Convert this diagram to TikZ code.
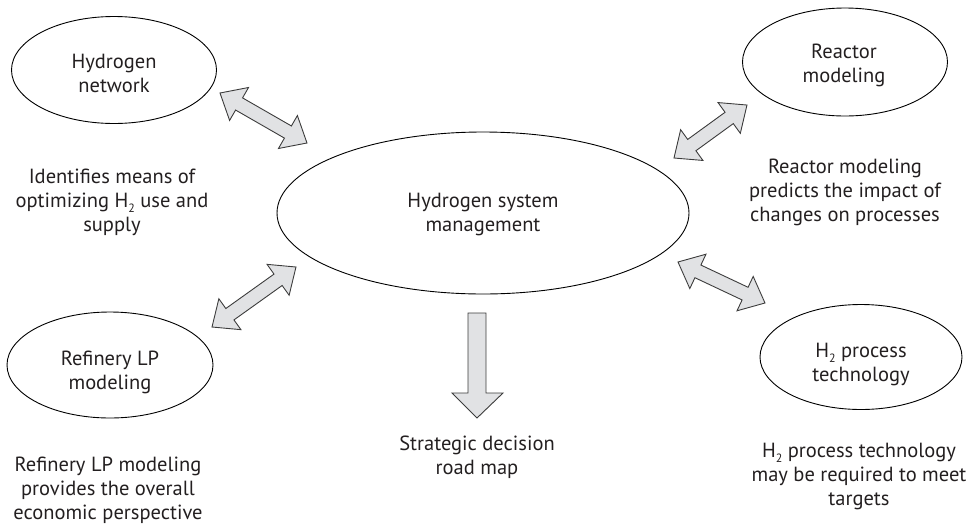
\documentclass[tikz,border=0pt]{standalone}
\usepackage{fontspec}
\setmainfont{PT Sans}
\usetikzlibrary{shapes.geometric,calc}
\definecolor{txt}{HTML}{231F20}
\definecolor{arrfill}{HTML}{E1E2E4}
\definecolor{arrline}{HTML}{3C3C3C}
\newcommand\Htwo{H\raisebox{-0.28em}{\fontsize{12}{12}\selectfont 2}}
\tikzset{
 bubble/.style={ellipse, draw=black, line width=0.9pt, inner sep=0pt},
 lbl/.style={align=center, text=txt, font=\fontsize{20.5}{24}\selectfont, inner sep=0pt},
 blockarr/.style={draw=arrline, fill=arrfill, line width=0.9pt, line join=miter},
}
\newcommand\dblblock[2]{%
 \path let \p1=($(#2)-(#1)$) in \pgfextra{%
   \pgfmathsetmacro\dbAng{atan2(\y1,\x1)}%
   \pgfmathsetmacro\dbLen{veclen(\x1,\y1)}%
   \xdef\dbAngG{\dbAng}\xdef\dbLenG{\dbLen}};
 \begin{scope}[shift={(#1)}, rotate=\dbAngG]
  \draw[blockarr] (0pt,0pt) -- (22pt,19pt) -- (22pt,7pt) -- (\dbLenG pt-22pt,7pt) -- (\dbLenG pt-22pt,19pt) -- (\dbLenG pt,0pt) -- (\dbLenG pt-22pt,-19pt) -- (\dbLenG pt-22pt,-7pt) -- (22pt,-7pt) -- (22pt,-19pt) -- cycle;
 \end{scope}}
\begin{document}
\begin{tikzpicture}[x=1pt,y=-1pt]
\useasboundingbox (0,0) rectangle (970,528);
% ellipses
\node[bubble, minimum width=205pt, minimum height=107pt] (hn) at (114,70) {};
\node[bubble, minimum width=412pt, minimum height=162pt] (hsm) at (483,213) {};
\node[bubble, minimum width=205pt, minimum height=108pt] (rm) at (845,62) {};
\node[bubble, minimum width=206pt, minimum height=106pt] (lp) at (110,365) {};
\node[bubble, minimum width=202pt, minimum height=105pt] (pt) at (861,357) {};
% ellipse labels
\node[lbl] (hnT) at (114,73) {Hydrogen\\network};
\node[lbl] (hsmT) at (483,214) {Hydrogen system\\management};
\node[lbl] (rmT) at (844,65) {Reactor\\modeling};
\node[lbl] (lpT) at (110,372) {Refinery LP\\modeling};
\node[lbl] (ptT) at (861,364) {\Htwo{} process\\technology};
% descriptions
\node[lbl] (d1) at (112,202) {Identifies means of\\optimizing \Htwo{} use and\\supply};
\node[lbl] (d2) at (845,192) {Reactor modeling\\predicts the impact of\\changes on processes};
\node[lbl] (d3) at (477,457) {Strategic decision\\road map};
\node[lbl] (d4) at (108,490) {Refinery LP modeling\\provides the overall\\economic perspective};
\node[lbl] (d5) at (859,476) {\Htwo{} process technology\\may be required to meet\\targets};
% arrow tips
\coordinate (a1) at (220,93);  \coordinate (b1) at (307,143);
\coordinate (a2) at (212,327); \coordinate (b2) at (296,267);
\coordinate (a3) at (674,158); \coordinate (b3) at (747,105);
\coordinate (a4) at (678,262); \coordinate (b4) at (765,303);
\dblblock{a1}{b1}
\dblblock{a2}{b2}
\dblblock{a3}{b3}
\dblblock{a4}{b4}
% down arrow
\coordinate (dtop) at (477,313);
\coordinate (dtip) at (477,418);
\draw[blockarr] ($(dtop)+(-9,0)$) -- ($(dtop)+(9,0)$) -- ($(dtip)+(9,-25)$) -- ($(dtip)+(26,-25)$) -- (dtip) -- ($(dtip)+(-25,-25)$) -- ($(dtip)+(-9,-25)$) -- cycle;
\end{tikzpicture}
\end{document}
